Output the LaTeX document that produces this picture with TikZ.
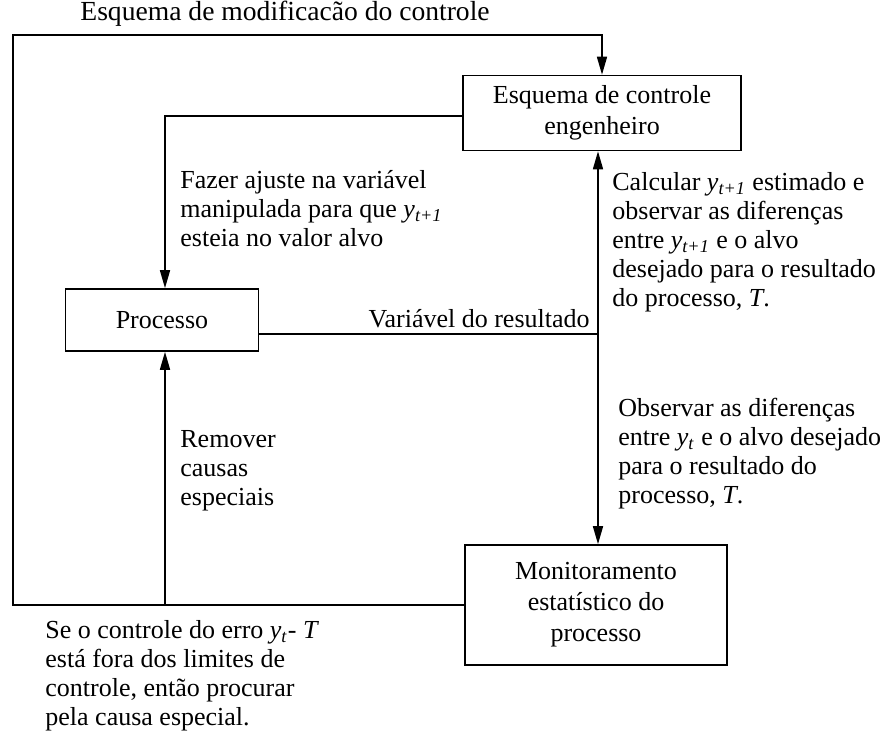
\documentclass[tikz,border=0pt]{standalone}
\usepackage{fontspec}
\setmainfont{Liberation Serif}
\usetikzlibrary{arrows.meta}
\newcommand{\yv}[1]{\textit{y}\textsubscript{\textit{#1}}}
\begin{document}
\begin{tikzpicture}[x=0.5pt,y=-0.5pt,
  box/.style={draw,line width=0.8pt,align=center,font=\fontsize{13}{15.5}\selectfont,inner sep=0pt},
  lab/.style={align=left,anchor=north west,inner sep=0pt,font=\fontsize{13}{14.5}\selectfont},
  conn/.style={line width=0.8pt},
  arr/.style={conn,-{Triangle[length=9pt,width=5pt]}},
  darr/.style={conn,{Triangle[length=9pt,width=5pt]}-{Triangle[length=9pt,width=5pt]}}]
\useasboundingbox (0,0) rectangle (896,738);
\node[box,minimum width=139pt,minimum height=37.5pt] (eng) at (602,113) {Esquema de controle\\engenheiro};
\node[box,minimum width=96.5pt,minimum height=31pt] (proc) at (162,320) {Processo};
\node[box,minimum width=131pt,minimum height=60pt] (mon) at (596,605) {Monitoramento\\estatístico do\\processo};
\coordinate (lx) at (13,35);
\coordinate (vx) at (598,0);
\coordinate (rx) at (165,0);
\coordinate (ey) at (0,116);
% top loop
\draw[arr] (mon.west) -- (lx|-mon.west) -- (lx) -- (eng.north|-lx) -- (eng.north);
% engineering to process
\draw[arr] (eng.west|-ey) -- (rx|-ey) -- (rx|-proc.north);
% remove special causes
\draw[arr] (rx|-mon.west) -- (rx|-proc.south);
% process output
\coordinate (pv) at (vx|-0,334);
\draw[conn] (proc.east|-pv) -- (pv);
\draw[darr] (vx|-eng.south) -- (vx|-mon.north);
% labels
\node[lab,anchor=south west,font=\fontsize{13.8}{15}\selectfont] (t1) at (80,27) {Esquema de modificacão do controle};
\node[lab] (t2) at (180,170) {Fazer ajuste na variável\\manipulada para que \yv{t+1}\\esteia no valor alvo};
\node[lab,anchor=south east] (t3) at (590,328) {Variável do resultado};
\node[lab] (t4) at (612,172) {Calcular \yv{t+1} estimado e\\observar as diferenças\\entre \yv{t+1} e o alvo\\desejado para o resultado\\do processo, \textit{T}.};
\node[lab] (t5) at (618,398) {Observar as diferenças\\entre \yv{t} e o alvo desejado\\para o resultado do\\processo, \textit{T}.};
\node[lab] (t6) at (180,430) {Remover\\causas\\especiais};
\node[lab] (t7) at (45,620) {Se o controle do erro \yv{t}- \textit{T}\\está fora dos limites de\\controle, então procurar\\pela causa especial.};
\end{tikzpicture}
\end{document}
